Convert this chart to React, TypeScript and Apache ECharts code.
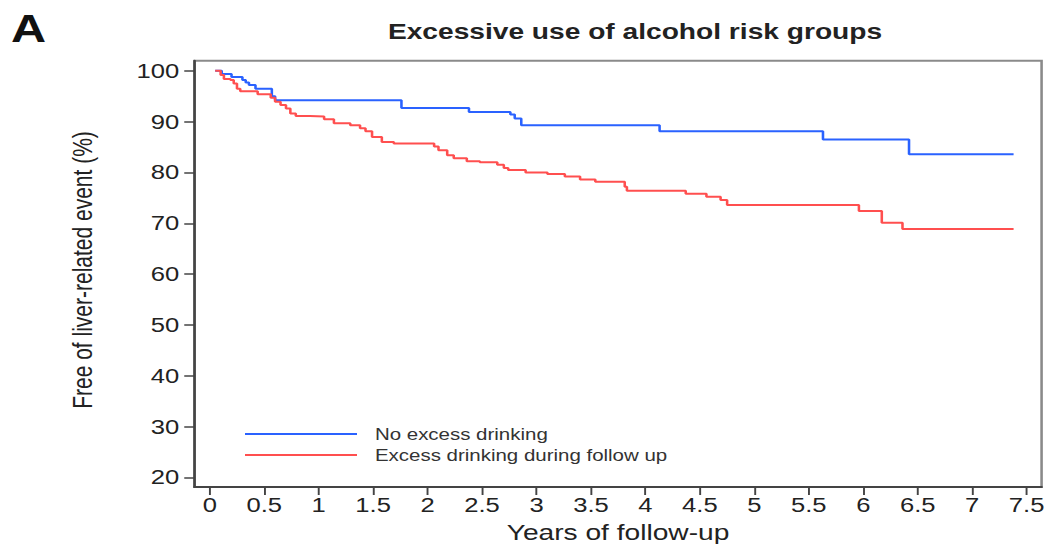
import React, { useEffect, useRef } from "react";
import * as echarts from "echarts";

// Axis ticks
const xTicks = [0, 0.5, 1, 1.5, 2, 2.5, 3, 3.5, 4, 4.5, 5, 5.5, 6, 6.5, 7, 7.5];
const yTicks = [20, 30, 40, 50, 60, 70, 80, 90, 100];

// Kaplan-Meier steps: time of each event (years) and survival after it (%)
const noExcessYears = [
  0.05, 0.11, 0.2, 0.3, 0.33, 0.36, 0.42, 0.57, 0.6, 1.76, 2.38, 2.76, 2.8,
  2.86, 4.13, 5.63, 6.42, 7.38,
];
const noExcessPct = [
  100, 99.4, 98.8, 98.2, 97.7, 97.2, 96.5, 95.0, 94.2, 92.7, 91.9, 91.4, 90.6,
  89.3, 88.1, 86.5, 83.6, 83.6,
];

const excessYears = [
  0.05, 0.1, 0.13, 0.19, 0.22, 0.25, 0.28, 0.44, 0.56, 0.6, 0.65, 0.7, 0.74,
  0.79, 0.92, 1.05, 1.14, 1.29, 1.38, 1.43, 1.49, 1.58, 1.69, 2.06, 2.1, 2.18,
  2.24, 2.36, 2.48, 2.64, 2.7, 2.74, 2.9, 3.1, 3.26, 3.4, 3.54, 3.81, 3.83,
  4.37, 4.56, 4.69, 4.75, 5.96, 6.17, 6.36, 7.38,
];
const excessPct = [
  100, 99.2, 98.4, 98.2, 97.5, 96.5, 96.0, 95.4, 94.7, 93.9, 93.3, 92.6, 91.6,
  91.1, 91.0, 90.5, 89.7, 89.3, 88.7, 88.1, 87.0, 86.0, 85.7, 85.1, 84.4, 83.4,
  82.8, 82.2, 82.0, 81.5, 80.9, 80.5, 80.0, 79.7, 79.2, 78.6, 78.2, 77.2, 76.4,
  75.8, 75.2, 74.6, 73.6, 72.4, 70.1, 68.9, 68.9,
];

const seriesNames = ["No excess drinking", "Excess drinking during follow up"];
const seriesColors = ["#2a62ff", "#ff4f4f"];

// The figure is drawn in a narrower frame and widened with a CSS scaleX.
const STRETCH = 1.28;
const FULL_WIDTH = 1051;
const HEIGHT = 544;
const WIDTH = FULL_WIDTH / STRETCH;
const sx = (x: number) => x / STRETCH;

const FONT = "'Liberation Sans', Arial, Helvetica, sans-serif";

function pairs(xs: number[], ys: number[]) {
  return xs.map((x, i) => [x, ys[i]]);
}

export default function App() {
  const ref = useRef<HTMLDivElement>(null);

  useEffect(() => {
    if (!ref.current) return;
    const chart = echarts.init(ref.current, null, { renderer: "svg" });
    const axisColor = "#444";
    chart.setOption({
      animation: false,
      backgroundColor: "#fff",
      textStyle: { fontFamily: FONT },
      grid: {
        left: sx(194.5),
        right: WIDTH - sx(1041.7),
        top: 60.7,
        bottom: HEIGHT - 487,
        show: true,
        borderColor: "#8a8a8a",
        borderWidth: 2,
        backgroundColor: "transparent",
        outerBoundsMode: "none",
      },
      xAxis: {
        type: "value",
        min: -0.14,
        max: 7.637,
        name: "Years of follow-up",
        nameLocation: "middle",
        nameGap: 34,
        nameTextStyle: { fontSize: 22, color: "#222", fontFamily: FONT },
        axisLine: { onZero: false, lineStyle: { color: axisColor, width: 2 } },
        axisTick: {
          show: true,
          length: 8,
          customValues: xTicks,
          lineStyle: { color: axisColor, width: 1.5 },
        },
        axisLabel: {
          customValues: xTicks,
          margin: 8,
          fontSize: 20,
          color: "#222",
          fontFamily: FONT,
          formatter: (v: number) => String(v),
        },
        splitLine: { show: false },
      },
      yAxis: {
        type: "value",
        min: 18.1,
        max: 102,
        axisLine: {
          show: true,
          onZero: false,
          lineStyle: { color: axisColor, width: 2 },
        },
        axisTick: {
          show: true,
          length: 8,
          customValues: yTicks,
          lineStyle: { color: axisColor, width: 1.5 },
        },
        axisLabel: {
          customValues: yTicks,
          margin: 12,
          fontSize: 20,
          color: "#222",
          fontFamily: FONT,
          formatter: (v: number) => String(v),
        },
        splitLine: { show: false },
      },
      legend: {
        orient: "vertical",
        left: sx(245),
        top: 426,
        padding: 0,
        itemWidth: sx(357 - 245),
        itemHeight: 2,
        itemGap: 5,
        icon: "rect",
        data: seriesNames,
        textStyle: {
          fontSize: 16,
          color: "#333",
          fontFamily: FONT,
          padding: [0, 0, 0, 9],
        },
      },
      graphic: [
        {
          type: "text",
          left: sx(11),
          top: 10,
          style: {
            text: "A",
            fontSize: 38,
            fontWeight: "bold",
            fill: "#111",
            fontFamily: FONT,
          },
        },
        {
          type: "text",
          x: sx(635),
          y: 31,
          style: {
            text: "Excessive use of alcohol risk groups",
            fontSize: 22,
            fontWeight: "bold",
            fill: "#222",
            align: "center",
            verticalAlign: "middle",
            fontFamily: FONT,
          },
        },
        {
          type: "text",
          x: sx(83),
          y: 270,
          rotation: Math.PI / 2,
          style: {
            text: "Free of liver-related event (%)",
            fontSize: 21,
            fill: "#222",
            align: "center",
            verticalAlign: "middle",
            fontFamily: FONT,
          },
        },
      ],
      series: [
        {
          name: seriesNames[0],
          type: "line",
          step: "end",
          showSymbol: false,
          color: seriesColors[0],
          lineStyle: { width: 2, color: seriesColors[0] },
          data: pairs(noExcessYears, noExcessPct),
        },
        {
          name: seriesNames[1],
          type: "line",
          step: "end",
          showSymbol: false,
          color: seriesColors[1],
          lineStyle: { width: 2, color: seriesColors[1] },
          data: pairs(excessYears, excessPct),
        },
      ],
    });
    return () => chart.dispose();
  }, []);

  return (
    <div
      ref={ref}
      style={{
        position: "fixed",
        left: 0,
        top: 0,
        width: WIDTH,
        height: HEIGHT,
        transform: `scaleX(${STRETCH})`,
        transformOrigin: "0 0",
      }}
    />
  );
}
